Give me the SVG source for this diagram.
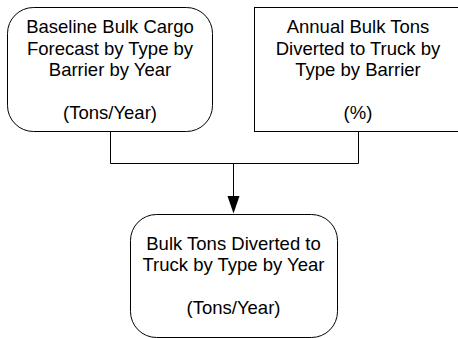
<svg xmlns="http://www.w3.org/2000/svg" width="458" height="338" viewBox="0 0 458 338">
<defs>
<style>
.box{fill:#fff;stroke:#000;stroke-width:1}
.lbl{font-family:"Liberation Sans",Arial,sans-serif;font-size:18.5px;fill:#000;text-anchor:middle}
.wire{fill:none;stroke:#000;stroke-width:1}
</style>
</defs>
<g id="connectors">
<path class="wire" d="M110.5,131.5 V163.5 H358.5 V131.5"/>
<path class="wire" d="M233.5,163.5 V200"/>
<path d="M227.5,196 L239.5,196 L233.5,213.5 Z" fill="#000"/>
</g>
<g id="node-baseline">
<rect class="box" x="7.5" y="7.5" width="205" height="124" rx="26" ry="26"/>
<text class="lbl" x="110" y="33">Baseline Bulk Cargo</text>
<text class="lbl" x="110" y="54.5">Forecast by Type by</text>
<text class="lbl" x="110" y="76">Barrier by Year</text>
<text class="lbl" x="110" y="119">(Tons/Year)</text>
</g>
<g id="node-annual">
<rect class="box" x="254.5" y="7.5" width="210" height="124"/>
<text class="lbl" x="358" y="33">Annual Bulk Tons</text>
<text class="lbl" x="358" y="54.5">Diverted to Truck by</text>
<text class="lbl" x="358" y="76">Type by Barrier</text>
<text class="lbl" x="358" y="119">(%)</text>
</g>
<g id="node-diverted">
<rect class="box" x="130.5" y="214.5" width="207" height="123" rx="26" ry="26"/>
<text class="lbl" x="233.5" y="249.5">Bulk Tons Diverted to</text>
<text class="lbl" x="233.5" y="271">Truck by Type by Year</text>
<text class="lbl" x="233.5" y="314">(Tons/Year)</text>
</g>
</svg>
